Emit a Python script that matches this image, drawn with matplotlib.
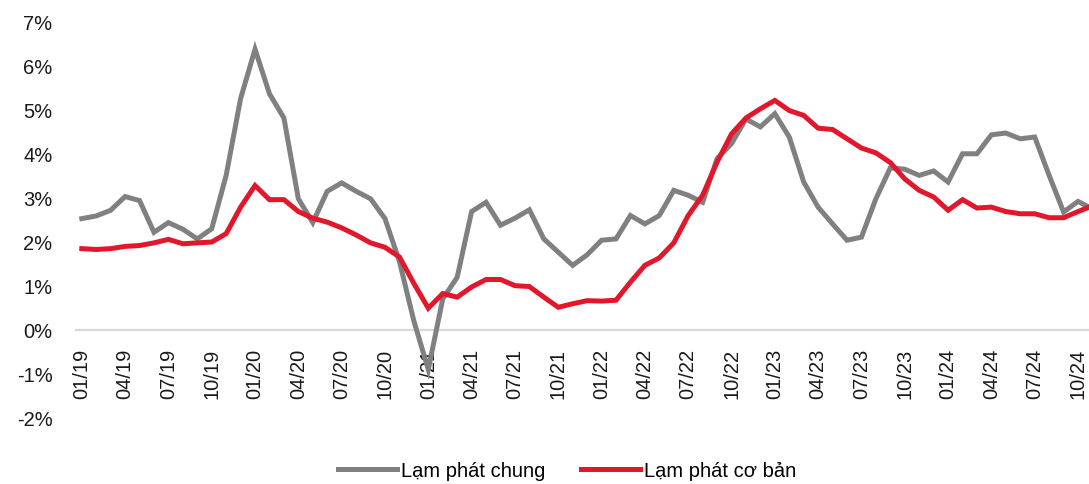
import matplotlib
matplotlib.use("Agg")
import matplotlib.pyplot as plt
from matplotlib.ticker import FuncFormatter, FixedLocator, FixedFormatter

# Monthly periods 01/19 .. 11/24
months = [f"{m:02d}/{y:02d}" for y in range(19, 25) for m in range(1, 13)][:71]

lam_phat_chung = [
    2.52, 2.58, 2.71, 3.02, 2.93, 2.21, 2.43, 2.28, 2.06, 2.29, 3.50, 5.24,
    6.36, 5.35, 4.80, 2.97, 2.43, 3.14, 3.33, 3.14, 2.97, 2.52, 1.55, 0.20,
    -0.90, 0.70, 1.19, 2.68, 2.89, 2.37, 2.53, 2.72, 2.06, 1.76, 1.46, 1.70,
    2.03, 2.06, 2.59, 2.40, 2.59, 3.16, 3.05, 2.89, 3.88, 4.22, 4.78, 4.60,
    4.90, 4.37, 3.35, 2.78, 2.40, 2.03, 2.10, 2.97, 3.67, 3.64, 3.50, 3.60,
    3.35, 3.99, 3.99, 4.42, 4.46, 4.33, 4.37, 3.50, 2.67, 2.91, 2.74,
]
lam_phat_co_ban = [
    1.84, 1.82, 1.84, 1.89, 1.91, 1.97, 2.05, 1.95, 1.97, 1.99, 2.18, 2.78,
    3.27, 2.95, 2.95, 2.68, 2.53, 2.44, 2.31, 2.15, 1.97, 1.87, 1.65, 1.05,
    0.49, 0.82, 0.74, 0.97, 1.14, 1.14, 1.00, 0.98, 0.74, 0.51, 0.59, 0.66,
    0.65, 0.67, 1.08, 1.46, 1.63, 1.97, 2.59, 3.05, 3.80, 4.44, 4.80, 5.01,
    5.20, 4.97, 4.86, 4.57, 4.54, 4.33, 4.12, 4.01, 3.79, 3.42, 3.16, 3.01,
    2.71, 2.95, 2.76, 2.78, 2.68, 2.63, 2.63, 2.54, 2.54, 2.68, 2.81,
]
series_names = ["Lạm phát chung", "Lạm phát cơ bản"]
y_ticks = [-2, -1, 0, 1, 2, 3, 4, 5, 6, 7]

plt.rcParams['font.family'] = ['Liberation Sans Narrow', 'Liberation Sans', 'DejaVu Sans']

fig = plt.figure(figsize=(10.89, 4.85), dpi=100)
ax = fig.add_axes([76/1089, 1 - 419/485, 1 - 76/1089, (419 - 22)/485])

x = list(range(len(months)))
ax.plot(x, lam_phat_chung, color="#808080", lw=3.6, label=series_names[0],
        solid_joinstyle="miter", zorder=3)
ax.plot(x, lam_phat_co_ban, color="#E3172B", lw=3.6, label=series_names[1],
        solid_joinstyle="miter", zorder=4)

for s in ["top", "right", "left"]:
    ax.spines[s].set_visible(False)
ax.spines["bottom"].set_position(("data", 0))
ax.spines["bottom"].set_color("#d9d9d9")
ax.spines["bottom"].set_linewidth(1.6)
ax.spines["bottom"].set_zorder(1)

ax.set_xlim(-0.4, 69.76)
ax.set_ylim(-2, 7)
ax.set_yticks(y_ticks)
ax.yaxis.set_major_formatter(FuncFormatter(lambda v, p: f"{int(round(v))}%"))

tick_pos = list(range(0, len(months), 3))
ax.xaxis.set_major_locator(FixedLocator(tick_pos))
ax.xaxis.set_major_formatter(FixedFormatter([months[i] for i in tick_pos]))

ax.tick_params(axis="x", length=0, pad=13, labelsize=14.5, colors="#1a1a1a",
               labelrotation=90)
ax.tick_params(axis="y", length=0, pad=17, labelsize=14.5, colors="#1a1a1a")

fig.legend(loc="center", bbox_to_anchor=(567/1089, 1 - 472/485), ncol=2,
           frameon=False, fontsize=14.5, handlelength=2.9, handletextpad=0.2,
           columnspacing=1.8)

fig.savefig("out.png", dpi=100)
